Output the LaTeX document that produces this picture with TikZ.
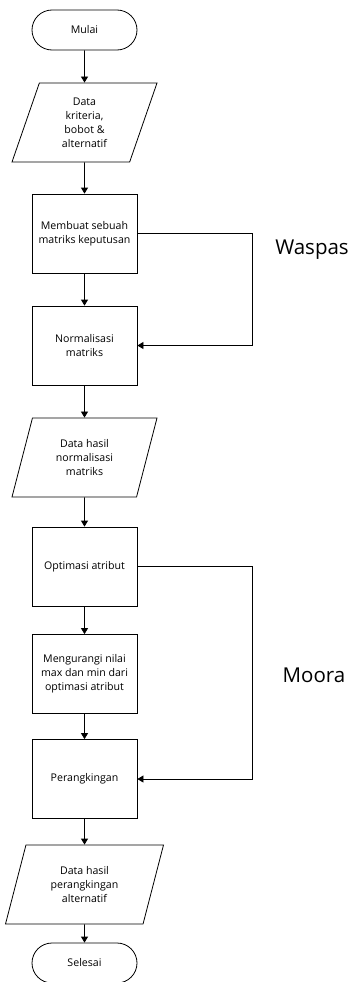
\documentclass[tikz,border=0pt]{standalone}
\usepackage{fontspec}
\setmainfont{Open Sans}
\usepackage{tikz}
\usetikzlibrary{arrows.meta, positioning, shapes.geometric, calc}

\tikzset{
  garis/.style={line width=0.8pt},
  panah/.style={garis, -{Triangle[length=6pt, width=7pt]}},
  proses/.style={garis, draw, minimum width=105pt, minimum height=79pt, align=center, inner sep=2pt, font=\fontsize{10.6}{14}\selectfont},
  terminal/.style={proses, rounded corners=20pt, minimum height=40pt},
  dataio/.style={proses, trapezium, trapezium left angle=63, trapezium right angle=117, trapezium stretches body, minimum width=145pt},
  metode/.style={font=\fontsize{20.5}{24}\selectfont}
}

\begin{document}
\begin{tikzpicture}[x=1pt, y=-1pt]
  \useasboundingbox (0,0) rectangle (355,982);
  % Alur utama
  \node[terminal] (mulai) at (84.5,30) {Mulai};
  \node[dataio] (data) at (84.5,122.5) {Data\\kriteria,\\bobot \&\\alternatif};
  \node[proses] (buat) at (84.5,233.5) {Membuat sebuah\\matriks keputusan};
  \node[proses] (norm) at (84.5,345.5) {Normalisasi\\matriks};
  \node[dataio] (hasilnorm) at (84.5,457.5) {Data hasil\\normalisasi\\matriks};
  \node[proses] (optim) at (84.5,566.5) {Optimasi atribut};
  \node[proses] (kurang) at (84.5,674) {Mengurangi nilai\\max dan min dari\\optimasi atribut};
  \node[proses] (rank) at (84.5,779) {Perangkingan};
  \node[dataio, minimum width=158pt] (hasilrank) at (84.5,884.5) {Data hasil\\perangkingan\\alternatif};
  \node[terminal] (selesai) at (84.5,963) {Selesai};
  % Panah
  \draw[panah] (mulai) -- (data);
  \draw[panah] (data) -- (buat);
  \draw[panah] (buat) -- (norm);
  \draw[panah] (norm) -- (hasilnorm);
  \draw[panah] (hasilnorm) -- (optim);
  \draw[panah] (optim) -- (kurang);
  \draw[panah] (kurang) -- (rank);
  \draw[panah] (rank) -- (hasilrank);
  \draw[panah] (hasilrank) -- (selesai);
  % Jalur samping
  \draw[panah] (buat.east) -- ++(115,0) |- (norm.east);
  \draw[panah] (optim.east) -- ++(115,0) |- (rank.east);
  % Metode
  \node[metode] (waspas) at (312,250) {Waspas};
  \node[metode] (moora) at (314,675) {Moora};
\end{tikzpicture}
\end{document}
